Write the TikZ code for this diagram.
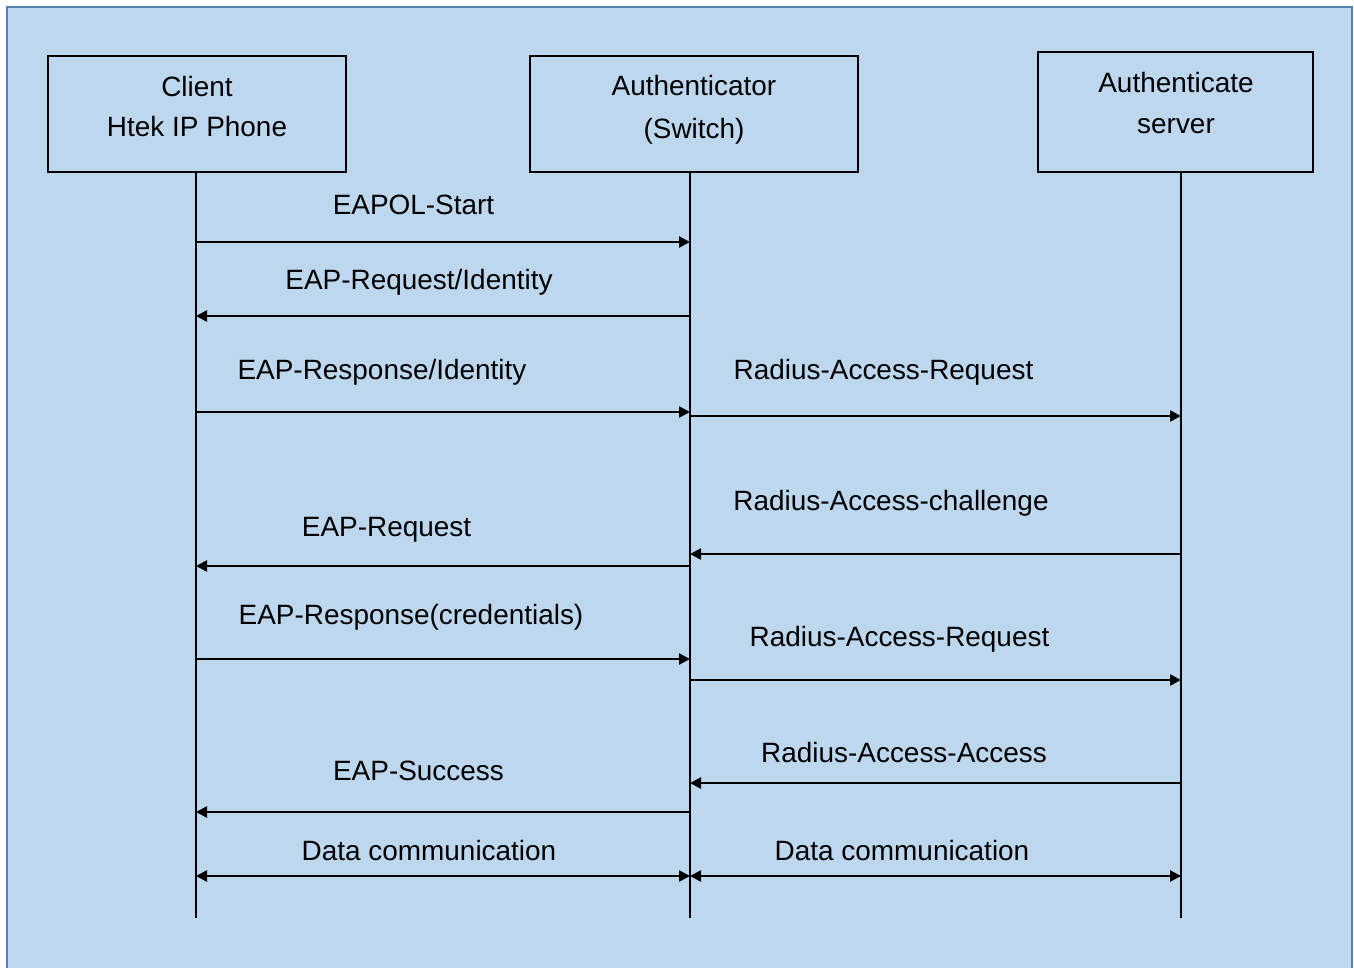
\documentclass[tikz,border=0pt]{standalone}
\usepackage{fontspec}
\setmainfont{Liberation Sans}
\usetikzlibrary{calc}
\usetikzlibrary{shapes,arrows.meta,positioning}
\definecolor{bgblue}{HTML}{BDD7EE}
\definecolor{frameblue}{HTML}{5580B0}
\tikzstyle{block} = [rectangle, draw, line width=1.1pt, inner sep=0pt, minimum height=2.32cm]
\tikzstyle{title} = [align=center, font=\fontsize{15.9}{23}\selectfont]
\tikzstyle{msg} = [anchor=base, inner sep=0pt, font=\fontsize{15.9}{19}\selectfont]
\tikzstyle{life} = [draw, line width=1.1pt]
\tikzstyle{line} = [draw, line width=1.4pt, -{Triangle[length=0.22cm,width=0.22cm]}]
\tikzstyle{both} = [draw, line width=1.4pt, {Triangle[length=0.22cm,width=0.22cm]}-{Triangle[length=0.22cm,width=0.22cm]}]

\begin{document}
\begin{tikzpicture}[x=0.02cm, y=-0.02cm]
\clip (0,0) rectangle (1354,967);
\useasboundingbox (0,0) rectangle (1354,967);
\draw[fill=bgblue, draw=frameblue, line width=1.3pt] (7,7) rectangle (1352,995);
%Boxes:
\node[block, minimum width=5.96cm](CL_box) at (197,114) {};
\node[title](CL_t) at (197,106.5) {Client\\Htek IP Phone};
\node[block, minimum width=6.56cm](AU_box) at (694,114) {};
\node[title, font=\fontsize{15.9}{24.5}\selectfont](AU_t) at (694,109.5) {Authenticator\\(Switch)};
\node[block, minimum width=5.5cm, minimum height=2.4cm](AS_box) at (1175.5,112) {};
\node[title](AS_t) at (1176,103) {Authenticate\\server};
%Lifelines:
\coordinate (CL_top) at (196,172);
\coordinate (CL_end) at (196,918);
\coordinate (AU_top) at (690,172);
\coordinate (AU_end) at (690,918);
\coordinate (AS_top) at (1181,172);
\coordinate (AS_end) at (1181,918);
\path (CL_top) edge[life] (CL_end);
\path (AU_top) edge[life] (AU_end);
\path (AS_top) edge[life] (AS_end);
%Messages:
\coordinate (m1) at (0,242);
\coordinate (m2) at (0,316);
\coordinate (m3) at (0,412);
\coordinate (m4) at (0,416);
\coordinate (m5) at (0,554);
\coordinate (m6) at (0,566);
\coordinate (m7) at (0,659);
\coordinate (m8) at (0,680);
\coordinate (m9) at (0,783);
\coordinate (m10) at (0,812);
\coordinate (m11) at (0,876);
\path (CL_top |- m1) edge[line] (AU_top |- m1);
\node[msg](EAPOL_start) at (413.5,214) {EAPOL-Start};
\path (AU_top |- m2) edge[line] (CL_top |- m2);
\node[msg](EAP_req_id) at (419,289) {EAP-Request/Identity};
\path (CL_top |- m3) edge[line] (AU_top |- m3);
\node[msg](EAP_resp_id) at (382,379) {EAP-Response/Identity};
\path (AU_top |- m4) edge[line] (AS_top |- m4);
\node[msg](RA_req1) at (883.5,379) {Radius-Access-Request};
\path (AS_top |- m5) edge[line] (AU_top |- m5);
\node[msg](RA_chal) at (891,510) {Radius-Access-challenge};
\path (AU_top |- m6) edge[line] (CL_top |- m6);
\node[msg](EAP_req) at (386.5,536) {EAP-Request};
\path (CL_top |- m7) edge[line] (AU_top |- m7);
\node[msg](EAP_resp_cred) at (411,624) {EAP-Response(credentials)};
\path (AU_top |- m8) edge[line] (AS_top |- m8);
\node[msg](RA_req2) at (899.5,646) {Radius-Access-Request};
\path (AS_top |- m9) edge[line] (AU_top |- m9);
\node[msg](RA_acc) at (904,762) {Radius-Access-Access};
\path (AU_top |- m10) edge[line] (CL_top |- m10);
\node[msg](EAP_succ) at (418.5,780) {EAP-Success};
%Data:
\path (CL_top |- m11) edge[both] (AU_top |- m11);
\node[msg](DC_left) at (429,860) {Data communication};
\path (AU_top |- m11) edge[both] (AS_top |- m11);
\node[msg](DC_right) at (902,860) {Data communication};
\end{tikzpicture}
\end{document}
